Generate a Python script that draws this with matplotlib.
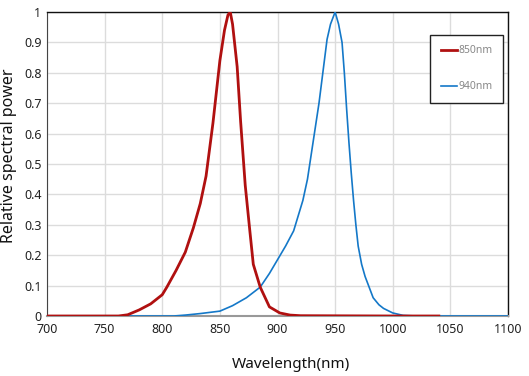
import matplotlib
matplotlib.use("Agg")
import matplotlib.pyplot as plt

wl_850 = [700, 762, 770, 780, 790, 800, 804, 812, 820, 827, 833, 838, 844, 850, 854, 857, 859, 861, 865, 868, 872, 876, 879, 885, 893, 902, 911, 920, 1000, 1040]
pw_850 = [0, 0, 0.004, 0.02, 0.04, 0.07, 0.095, 0.15, 0.21, 0.29, 0.37, 0.46, 0.635, 0.84, 0.94, 0.99, 1.0, 0.96, 0.82, 0.64, 0.43, 0.28, 0.17, 0.095, 0.03, 0.01, 0.003, 0.001, 0, 0]

wl_940 = [700, 810, 820, 833, 850, 861, 873, 885, 893, 900, 907, 914, 922, 926, 932, 936, 940, 943, 946, 949, 950, 953, 956, 958, 960, 962, 964, 966, 968, 970, 973, 976, 979, 983, 988, 992, 1000, 1009, 1020, 1100]
pw_940 = [0, 0, 0.003, 0.008, 0.016, 0.034, 0.06, 0.095, 0.14, 0.185, 0.23, 0.28, 0.38, 0.45, 0.6, 0.7, 0.82, 0.91, 0.96, 0.99, 1.0, 0.96, 0.9, 0.8, 0.68, 0.57, 0.47, 0.38, 0.3, 0.23, 0.17, 0.13, 0.1, 0.06, 0.037, 0.025, 0.01, 0.002, 0, 0]

x_ticks = [700, 750, 800, 850, 900, 950, 1000, 1050, 1100]
y_ticks = [0, 0.1, 0.2, 0.3, 0.4, 0.5, 0.6, 0.7, 0.8, 0.9, 1]
y_tick_labels = ["0", "0.1", "0.2", "0.3", "0.4", "0.5", "0.6", "0.7", "0.8", "0.9", "1"]

plt.rcParams['font.family'] = ['Noto Sans', 'DejaVu Sans']

fig = plt.figure(figsize=(5.29, 3.76), dpi=100)
ax = fig.add_axes([47/529, 1-316/376, (508-47)/529, (316-12)/376])

ax.plot(wl_940, pw_940, color='#1478C8', lw=1.2, label='940nm', zorder=3)
ax.plot(wl_850, pw_850, color='#B01010', lw=2.0, label='850nm', zorder=4)

ax.set_xlim(700, 1100)
ax.set_ylim(0, 1)
ax.set_xticks(x_ticks)
ax.set_yticks(y_ticks)
ax.set_yticklabels(y_tick_labels)
ax.tick_params(length=0, labelsize=9, colors='#222222')
ax.tick_params(axis='x', pad=5)
ax.tick_params(axis='y', pad=4)
ax.grid(True, color='#DCDCDC', lw=1.0)
ax.set_axisbelow(True)
for s in ['top', 'right']:
    ax.spines[s].set_color('#111111')
    ax.spines[s].set_linewidth(1.0)
ax.spines['left'].set_color('#444444')
ax.spines['bottom'].set_color('#999999')
ax.spines['bottom'].set_linewidth(1.5)

ax.set_xlabel('Wavelength(nm)', fontsize=11, color='#111111')
ax.set_ylabel('Relative spectral power', fontsize=11.5, color='#111111')
ax.xaxis.set_label_coords((291-47)/461, -(365-316)/304)
ax.yaxis.set_label_coords(-(47-9)/461, (316-156)/304)
ax.xaxis.label.set_va('center')
ax.yaxis.label.set_va('center')

handles, labels = ax.get_legend_handles_labels()
leg = ax.legend([handles[1], handles[0]], [labels[1], labels[0]], loc='upper right',
                bbox_to_anchor=(1 - 5/461, 1 - 23/304), fontsize=7.5, labelspacing=2.4,
                handlelength=1.6, handletextpad=0.1, borderpad=1.0, borderaxespad=0,
                fancybox=False, framealpha=1, edgecolor='#222222')
for t in leg.get_texts():
    t.set_color('#888888')
leg.get_frame().set_linewidth(1.0)

fig.savefig('out.png', dpi=100)
